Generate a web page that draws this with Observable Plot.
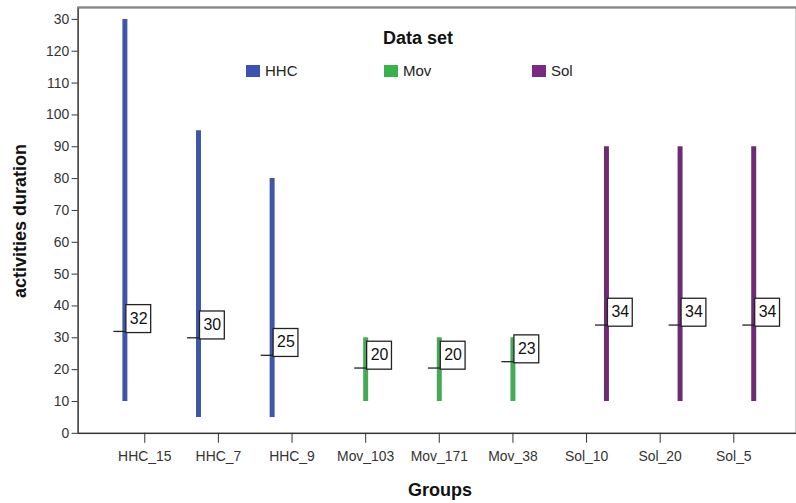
<!DOCTYPE html>
<html>
<head>
<meta charset="utf-8">
<script src="https://cdn.jsdelivr.net/npm/d3@7"></script>
<script src="https://cdn.jsdelivr.net/npm/@observablehq/plot@0.6"></script>
<style>
  html, body { margin: 0; padding: 0; background: #fff; overflow: hidden; }
  #wrap { position: relative; width: 796px; height: 503px; overflow: hidden; font-family: "Liberation Sans", Arial, sans-serif; }
  .lg-title { position: absolute; left: 383px; top: 28px; font-weight: bold; font-size: 18px; color: #111; }
  .lg-item { position: absolute; top: 62px; font-size: 15px; color: #222; display: flex; align-items: center; }
  .lg-item span.sw { display: inline-block; width: 14px; height: 12px; margin-right: 5px; }
</style>
</head>
<body>
<div id="wrap"></div>
<script>
const groups = ["HHC_15","HHC_7","HHC_9","Mov_103","Mov_171","Mov_38","Sol_10","Sol_20","Sol_5"];
const dataSet = ["HHC","HHC","HHC","Mov","Mov","Mov","Sol","Sol","Sol"];
const minVals = [10,5,5,10,10,10,10,10,10];
const maxVals = [130,95,80,30,30,30,90,90,90];
const medians = [32,30,24.5,20.5,20.5,22.5,34,34,34];
const medianLabels = ["32","30","25","20","20","23","34","34","34"];
const seriesNames = ["HHC","Mov","Sol"];
const seriesColors = ["#3f55a8","#45a955","#6c2c72"];
const legendColors = ["#3b52b4","#38b24a","#7a2a82"];
const yTickValues = [0,10,20,30,40,50,60,70,80,90,100,110,120,130];
const yTickLabels = ["0","10","20","30","40","50","60","70","80","90","100","110","120","30"];
const yDomain = [0, 133.75];

const rows = groups.map((g, i) => ({group: g, set: dataSet[i], min: minVals[i], max: maxVals[i], median: medians[i], label: medianLabels[i]}));
const offsets = {HHC: -20, Mov: 0, Sol: 20};

const marks = [
  Plot.frame({stroke: "#333", strokeWidth: 1.5}),
  Plot.ruleY([yDomain[1]], {stroke: "#888", strokeWidth: 2})
];
seriesNames.forEach((s, k) => {
  const d = rows.filter(r => r.set === s);
  const dx = offsets[s];
  marks.push(Plot.ruleX(d, {x: "group", y1: "min", y2: "max", stroke: seriesColors[k], strokeWidth: 5, dx}));
  marks.push(Plot.tickY(d, {x: "group", y: "median", stroke: "#222", strokeWidth: 1.3, insetLeft: 26 + dx, insetRight: 35 - dx}));
  marks.push(Plot.text(d, {x: "group", y: "median", text: "label", dx: dx + 5, dy: -13, textAnchor: "start", fontSize: 16, fill: "#111", ariaDescription: "median-labels"}));
});
marks.push(Plot.axisY({ticks: yTickValues, tickFormat: (v) => yTickLabels[yTickValues.indexOf(v)], tickSize: 6, fontSize: 14, label: null}));
marks.push(Plot.axisX({tickSize: 10, fontSize: 14, label: null, tickPadding: 8}));

const chart = Plot.plot({
  width: 800,
  height: 503,
  marginLeft: 78,
  marginRight: 0,
  marginTop: 7,
  marginBottom: 68,
  style: {fontFamily: "Liberation Sans, Arial, sans-serif", color: "#333", background: "#fff", overflow: "visible"},
  x: {type: "band", domain: groups, range: [108, 774], padding: 0, label: null},
  y: {domain: yDomain, label: null},
  marks
});

const wrap = document.getElementById("wrap");
wrap.appendChild(chart);

// boxes around median labels
const labelTexts = [];
chart.querySelectorAll("g").forEach(g => {
  if (g.getAttribute("aria-description") === "median-labels") g.querySelectorAll("text").forEach(t => labelTexts.push(t));
});
labelTexts.forEach(function(tx) {
  const b = tx.getBBox();
  const t = tx.getAttribute("transform");
  const r = document.createElementNS("http://www.w3.org/2000/svg", "rect");
  r.setAttribute("x", b.x - 4);
  r.setAttribute("y", b.y - 5);
  r.setAttribute("width", b.width + 7);
  r.setAttribute("height", b.height + 11);
  r.setAttribute("fill", "#fff");
  r.setAttribute("stroke", "#222");
  r.setAttribute("stroke-width", 1.3);
  if (t) r.setAttribute("transform", t);
  tx.parentNode.insertBefore(r, tx);
});

// axis titles
const yTitle = document.createElement("div");
yTitle.textContent = "activities duration";
Object.assign(yTitle.style, {position: "absolute", left: "20px", top: "221px", transform: "translate(-50%,-50%) rotate(-90deg)", fontWeight: "bold", fontSize: "18px", whiteSpace: "nowrap", color: "#111"});
wrap.appendChild(yTitle);
const xTitle = document.createElement("div");
xTitle.textContent = "Groups";
Object.assign(xTitle.style, {position: "absolute", left: "440px", top: "490px", transform: "translate(-50%,-50%)", fontWeight: "bold", fontSize: "18px", color: "#111"});
wrap.appendChild(xTitle);

// legend
const lt = document.createElement("div");
lt.className = "lg-title";
lt.textContent = "Data set";
wrap.appendChild(lt);
const legendLeft = [246, 384, 532];
seriesNames.forEach((s, k) => {
  const it = document.createElement("div");
  it.className = "lg-item";
  it.style.left = legendLeft[k] + "px";
  it.innerHTML = `<span class="sw" style="background:${legendColors[k]}"></span>${s}`;
  wrap.appendChild(it);
});
</script>
</body>
</html>
